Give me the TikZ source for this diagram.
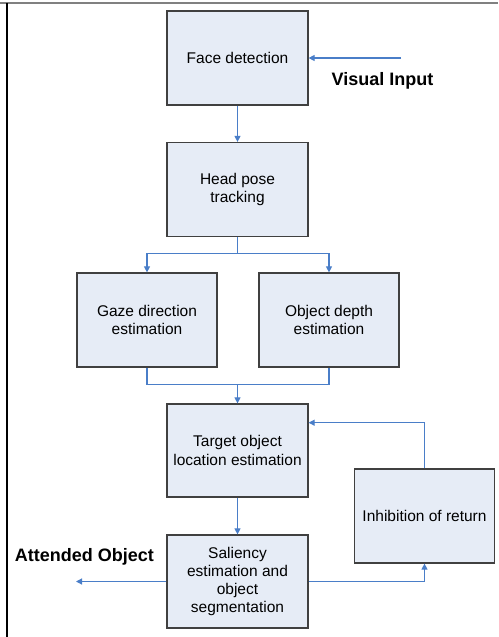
\documentclass[tikz,border=0pt]{standalone}
\usepackage{fontspec}
\setmainfont{Liberation Sans}
\usetikzlibrary{arrows.meta}
\definecolor{boxfill}{RGB}{230,236,246}
\definecolor{boxline}{RGB}{64,64,64}
\definecolor{conncol}{RGB}{74,126,200}
\begin{document}
\begin{tikzpicture}[x=1pt,y=-1pt,
  box/.style={draw=boxline, fill=boxfill, line width=1.2pt, minimum width=141pt, minimum height=94pt,
    align=center, inner sep=0pt, font=\fontsize{15.5}{18.3}\selectfont},
  conn/.style={draw=conncol, line width=1.1pt},
  arr/.style={conn, -{Triangle[length=6pt,width=6pt]}},
  lbl/.style={font=\fontsize{18}{21}\selectfont\bfseries, inner sep=0pt}]
\useasboundingbox (0,0) rectangle (498,637);
\draw[gray, line width=2pt] (0,3) -- (498,3);
\draw[black, line width=1.5pt] (7,3) -- (7,637);

\node[box] (face) at (237.5,58) {Face detection};
\node[box] (head) at (237.5,189.5) {Head pose\\tracking};
\node[box, minimum width=140pt] (gaze) at (147,320) {Gaze direction\\estimation};
\node[box, minimum width=140pt] (depth) at (329,320) {Object depth\\estimation};
\node[box, minimum height=93pt] (target) at (237.5,450.5) {Target object\\location estimation};
\node[box, minimum height=93pt] (sal) at (237.5,581.5) {Saliency\\estimation and\\object\\segmentation};
\node[box, minimum width=140pt] (inhib) at (424.5,516) {Inhibition of return};

\node[lbl] (vi) at (382.5,81) {Visual Input};
\node[lbl] (ao) at (84.5,557) {Attended Object};

\coordinate (vin) at (401,58);
\coordinate (aout) at (76,581.5);
\coordinate (split) at (237.5,253.3);
\coordinate (merge) at (237.5,384.3);

\draw[arr] (vin) -- (face.east);
\draw[arr] (face.south) -- (head.north);
\draw[conn] (head.south) -- (split);
\draw[arr] (split) -| (gaze.north);
\draw[arr] (split) -| (depth.north);
\draw[conn] (gaze.south) |- (merge);
\draw[conn] (depth.south) |- (merge);
\draw[arr] (merge) -- (target.north);
\draw[arr] (target.south) -- (sal.north);
\draw[arr] (inhib.north) |- ([yshift=27.8pt]target.east);
\draw[arr] (sal.east) -| (inhib.south);
\draw[arr] (sal.west) -- (aout);
\end{tikzpicture}
\end{document}
